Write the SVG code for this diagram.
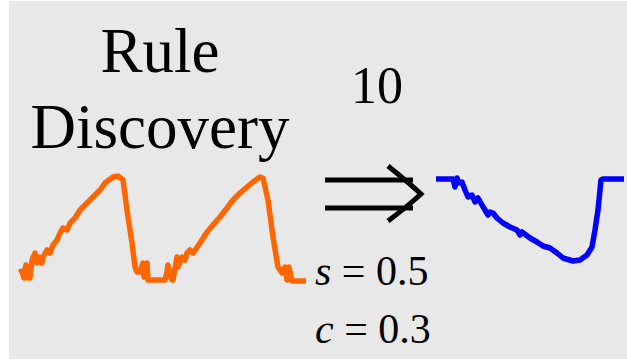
<svg xmlns="http://www.w3.org/2000/svg" width="627" height="361" viewBox="0 0 627 361">
<style>
.t{font-family:'Liberation Serif','Times New Roman',serif;fill:#000}
.series{fill:none;stroke-linejoin:round;stroke-linecap:butt;stroke-width:5.5}
</style>
<rect width="627" height="361" fill="#ffffff"/>
<rect x="9" y="1" width="618" height="358" fill="#e8e8e8"/>
<g id="title">
<text class="t" x="160" y="72" font-size="63" text-anchor="middle">Rule</text>
<text class="t" x="160" y="148" font-size="63" text-anchor="middle">Discovery</text>
</g>
<g id="orange-series">
<path class="series" stroke="#ff6600" d="M19,272 L22,271 L24,278 L26,265 L28,278 L30,278 L32,260 L35,253 L37,263 L39,257 L42,263 L43,257 L47,250 L50,253 L53,245 L57,240 L60,233 L63,228 L67,230 L70,223 L75,218 L80,210 L87,203 L93,197 L100,190 L105,183 L113,177 L118,176 L123,180 L127,210 L132,243 L135,267 L137,272 L140,272 L143,263 L144,277 L147,263 L148,280 L152,280 L165,280 L167,272 L168,265 L170,275 L172,280 L173,280 L177,257 L178,267 L182,257 L185,260 L187,253 L190,250 L193,253 L200,243 L207,232 L213,225 L220,217 L227,208 L233,200 L240,193 L247,187 L253,182 L260,177 L263,178 L268,200 L273,237 L278,267 L282,273 L285,267 L287,280 L289,267 L292,281 L306,281"/>
</g>
<g id="blue-series">
<path class="series" stroke="#0000ff" d="M436,179 L453,179 L455,187 L457,178 L459,183 L462,182 L465,190 L468,197 L472,195 L475,202 L478,198 L482,205 L485,210 L488,215 L490,212 L493,213 L497,218 L503,223 L510,227 L517,230 L520,235 L522,232 L530,238 L537,242 L543,246 L550,248 L557,253 L563,258 L573,261 L580,260 L587,255 L592,247 L595,230 L598,210 L601,180 L603,179 L624,179"/>
</g>
<g id="connectors">
<g fill="none" stroke="#000" stroke-width="5">
<line x1="325" y1="180" x2="413" y2="180"/>
<line x1="325" y1="208" x2="413" y2="208"/>
<path d="M388,166 Q408,182 421,194 Q408,206 388,221"/>
</g>
<text class="t" x="377" y="103" font-size="52" text-anchor="middle">10</text>
</g>
<g id="measures">
<text class="t" x="315" y="285" font-size="42"><tspan font-style="italic">s</tspan> = 0.5</text>
<text class="t" x="315" y="343" font-size="42"><tspan font-style="italic">c</tspan> = 0.3</text>
</g>
</svg>
